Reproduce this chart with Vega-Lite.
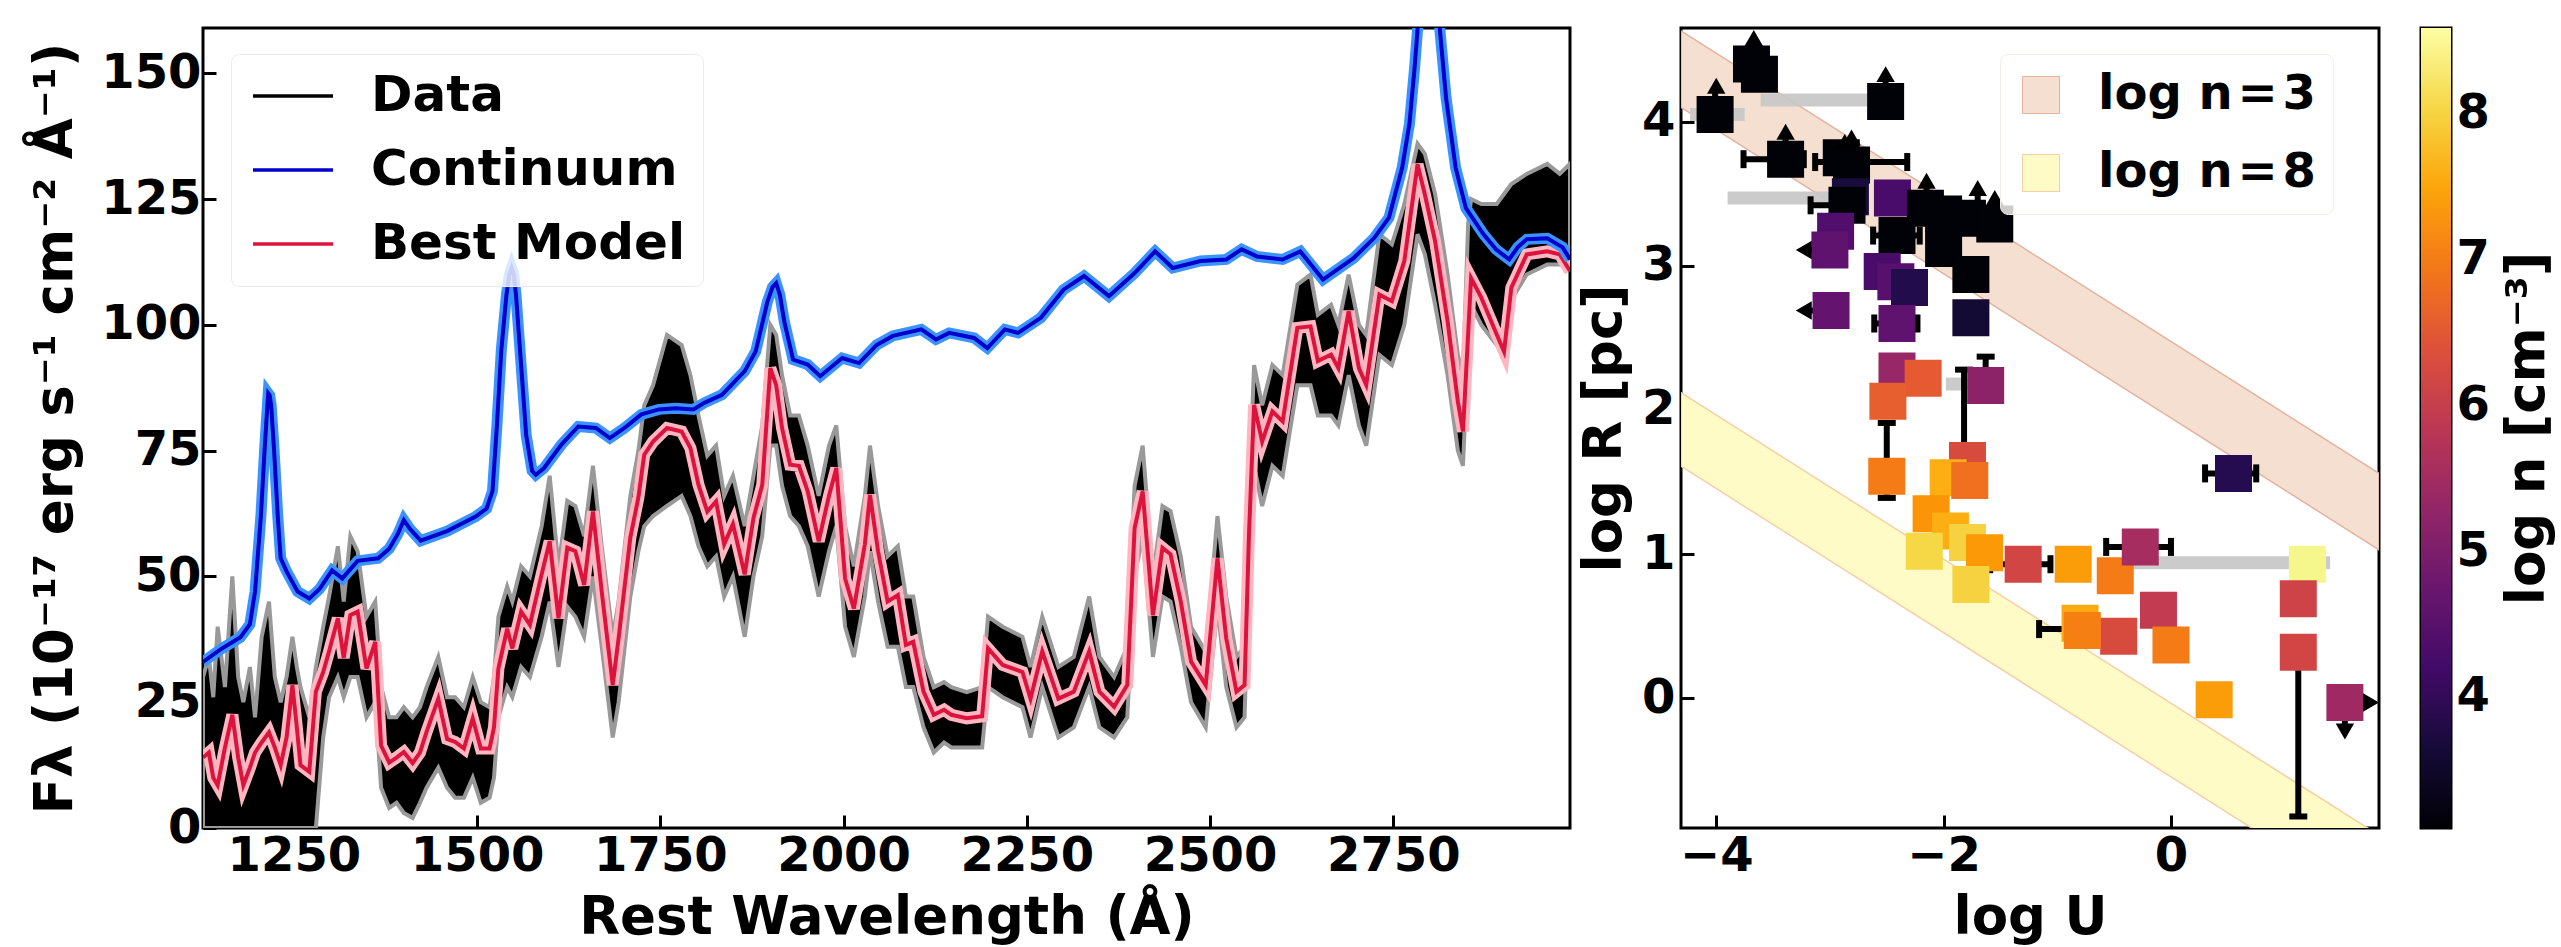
{
"$schema":"https://vega.github.io/schema/vega-lite/v6.json",
"background":"white",
"padding":{"left":28,"top":26,"right":0,"bottom":0},
"datasets":{
"spec":[
{"w":1126,"m":14,"lo":0,"hi":30},{"w":1134,"m":15,"lo":0,"hi":34},{"w":1140,"m":10,"lo":0,"hi":26},{"w":1146,"m":8.5,"lo":0,"hi":40},{"w":1156,"m":16,"lo":0,"hi":28},{"w":1166,"m":22.5,"lo":0,"hi":50},{"w":1174,"m":14,"lo":0,"hi":30},{"w":1181,"m":8.5,"lo":0,"hi":25},{"w":1190,"m":12,"lo":0,"hi":32},{"w":1197,"m":15,"lo":0,"hi":22},{"w":1206,"m":17,"lo":0,"hi":38},{"w":1216,"m":19,"lo":0,"hi":45},{"w":1224,"m":16,"lo":0,"hi":30},{"w":1232,"m":12.5,"lo":0,"hi":25},{"w":1240,"m":18,"lo":0,"hi":30},{"w":1248,"m":28.4,"lo":0,"hi":38},{"w":1254,"m":20,"lo":0,"hi":32},{"w":1259,"m":12.5,"lo":0,"hi":28},{"w":1271,"m":11.2,"lo":0,"hi":22},{"w":1280,"m":27.1,"lo":0,"hi":32},
{"w":1290,"m":31,"lo":18,"hi":40},{"w":1298,"m":35.1,"lo":26,"hi":46},{"w":1310,"m":41.7,"lo":30,"hi":56},{"w":1318,"m":33.8,"lo":26,"hi":45},{"w":1327,"m":42.3,"lo":30,"hi":58},{"w":1337,"m":43,"lo":30,"hi":55},{"w":1349,"m":31.7,"lo":22,"hi":42},{"w":1361,"m":37,"lo":25,"hi":45},{"w":1369,"m":16.4,"lo":8,"hi":28},{"w":1380,"m":13,"lo":4,"hi":22},{"w":1390,"m":14,"lo":5,"hi":22},{"w":1400,"m":15.1,"lo":3,"hi":24},{"w":1412,"m":12.9,"lo":2,"hi":22},{"w":1422,"m":15,"lo":5,"hi":24},{"w":1431,"m":19.1,"lo":8,"hi":28},{"w":1447,"m":25.7,"lo":12,"hi":34},{"w":1459,"m":17.7,"lo":8,"hi":26},{"w":1470,"m":17.1,"lo":6,"hi":26},{"w":1482,"m":15.8,"lo":6,"hi":24},{"w":1494,"m":21.8,"lo":10,"hi":30},{"w":1505,"m":15.8,"lo":5,"hi":25},{"w":1517,"m":15.8,"lo":6,"hi":24},{"w":1523,"m":20,"lo":10,"hi":30},{"w":1529,"m":31.7,"lo":22,"hi":42},{"w":1541,"m":39.6,"lo":28,"hi":48},{"w":1548,"m":35.7,"lo":26,"hi":45},{"w":1560,"m":43,"lo":32,"hi":52},{"w":1572,"m":40.4,"lo":30,"hi":50},{"w":1588,"m":50.4,"lo":38,"hi":60},{"w":1599,"m":57,"lo":45,"hi":70},{"w":1611,"m":41.7,"lo":32,"hi":52},{"w":1623,"m":55.7,"lo":44,"hi":65},{"w":1634,"m":55,"lo":42,"hi":64},{"w":1646,"m":48.3,"lo":38,"hi":58},{"w":1658,"m":62.9,"lo":50,"hi":72},{"w":1670,"m":47,"lo":36,"hi":56},{"w":1685,"m":28.4,"lo":18,"hi":38},{"w":1693,"m":37.7,"lo":25,"hi":45},{"w":1709,"m":57.7,"lo":46,"hi":66},{"w":1720,"m":65.7,"lo":55,"hi":75},{"w":1728,"m":74.2,"lo":60,"hi":84},{"w":1740,"m":76.8,"lo":62,"hi":88},{"w":1759,"m":79.5,"lo":64,"hi":98},{"w":1779,"m":78.8,"lo":66,"hi":96},{"w":1791,"m":75.5,"lo":62,"hi":90},{"w":1802,"m":68.2,"lo":56,"hi":82},{"w":1814,"m":62.9,"lo":52,"hi":74},{"w":1826,"m":64.9,"lo":54,"hi":76},{"w":1837,"m":56.4,"lo":46,"hi":66},{"w":1849,"m":60.4,"lo":50,"hi":70},{"w":1865,"m":50.4,"lo":38,"hi":60},{"w":1877,"m":61.6,"lo":50,"hi":70},{"w":1889,"m":68.2,"lo":58,"hi":80},{"w":1900,"m":91.4,"lo":76,"hi":100},{"w":1908,"m":88,"lo":76,"hi":98},{"w":1916,"m":79.5,"lo":68,"hi":90},{"w":1927,"m":72.2,"lo":62,"hi":82},{"w":1939,"m":72,"lo":60,"hi":82},{"w":1951,"m":66.9,"lo":56,"hi":76},{"w":1966,"m":57,"lo":46,"hi":66},{"w":1980,"m":66,"lo":55,"hi":76},{"w":1990,"m":71.5,"lo":60,"hi":80},{"w":2002,"m":49.6,"lo":40,"hi":60},{"w":2014,"m":43.6,"lo":34,"hi":52},{"w":2029,"m":56.4,"lo":46,"hi":66},{"w":2036,"m":66.2,"lo":55,"hi":76},{"w":2047,"m":55,"lo":45,"hi":64},{"w":2060,"m":45,"lo":36,"hi":54},{"w":2074,"m":46.3,"lo":36,"hi":56},{"w":2085,"m":36.4,"lo":28,"hi":46},{"w":2095,"m":37,"lo":28,"hi":46},{"w":2109,"m":27.1,"lo":20,"hi":34},{"w":2123,"m":22.5,"lo":15,"hi":28},{"w":2137,"m":23.5,"lo":17,"hi":29},{"w":2147,"m":22.5,"lo":16,"hi":28},{"w":2168,"m":21.8,"lo":16,"hi":27},{"w":2189,"m":22.2,"lo":16,"hi":28},{"w":2197,"m":35.7,"lo":28,"hi":42},{"w":2217,"m":32.4,"lo":26,"hi":40},{"w":2244,"m":31,"lo":24,"hi":38},{"w":2255,"m":25.7,"lo":18,"hi":32},{"w":2271,"m":35.1,"lo":28,"hi":42},{"w":2293,"m":25.7,"lo":18,"hi":32},{"w":2314,"m":27.1,"lo":20,"hi":34},{"w":2335,"m":35.1,"lo":28,"hi":46},{"w":2349,"m":27.1,"lo":20,"hi":34},{"w":2369,"m":24.1,"lo":18,"hi":30},{"w":2387,"m":28.4,"lo":22,"hi":36},{"w":2397,"m":59.6,"lo":50,"hi":68},{"w":2408,"m":66.9,"lo":58,"hi":76},{"w":2422,"m":42.3,"lo":34,"hi":50},{"w":2435,"m":55.7,"lo":46,"hi":64},{"w":2446,"m":54.4,"lo":45,"hi":63},{"w":2460,"m":45,"lo":36,"hi":54},{"w":2474,"m":33.1,"lo":25,"hi":40},{"w":2494,"m":28.4,"lo":20,"hi":35},{"w":2510,"m":53.6,"lo":44,"hi":62},{"w":2522,"m":37.7,"lo":28,"hi":46},{"w":2536,"m":27.1,"lo":20,"hi":34},{"w":2547,"m":28.4,"lo":22,"hi":36},{"w":2553,"m":58.2,"lo":50,"hi":66},{"w":2560,"m":84.1,"lo":72,"hi":92},{"w":2571,"m":76.8,"lo":64,"hi":84},{"w":2585,"m":82.8,"lo":72,"hi":92},{"w":2599,"m":80.8,"lo":70,"hi":90},{"w":2619,"m":99.4,"lo":88,"hi":108},{"w":2637,"m":99.7,"lo":88,"hi":110},{"w":2647,"m":92.8,"lo":82,"hi":102},{"w":2665,"m":94.1,"lo":82,"hi":104},{"w":2675,"m":91.4,"lo":80,"hi":100},{"w":2689,"m":102.7,"lo":90,"hi":110},{"w":2703,"m":91.4,"lo":80,"hi":100},{"w":2713,"m":88.1,"lo":76,"hi":98},{"w":2731,"m":106,"lo":94,"hi":118},{"w":2748,"m":104.7,"lo":92,"hi":116},{"w":2765,"m":112.7,"lo":100,"hi":124},{"w":2783,"m":131.9,"lo":118,"hi":136},{"w":2793,"m":125.9,"lo":114,"hi":134},{"w":2807,"m":116.6,"lo":104,"hi":126},{"w":2824,"m":100.7,"lo":90,"hi":110},{"w":2838,"m":84.8,"lo":75,"hi":94},{"w":2845,"m":78.8,"lo":72,"hi":90},{"w":2852,"m":98.1,"lo":95,"hi":120},{"w":2856,"m":109.3,"lo":104,"hi":125},{"w":2870,"m":105.4,"lo":100,"hi":124},{"w":2891,"m":98.1,"lo":96,"hi":124},{"w":2901,"m":94.7,"lo":96,"hi":126},{"w":2911,"m":107.4,"lo":105,"hi":128},{"w":2932,"m":114,"lo":110,"hi":130},{"w":2960,"m":114.6,"lo":112,"hi":132},{"w":2977,"m":114,"lo":112,"hi":130},{"w":2991,"m":110.7,"lo":112,"hi":132}
],
"cont":[
{"w":1126,"f":33},{"w":1150,"f":35.5},{"w":1177,"f":37.9},{"w":1190,"f":40.5},{"w":1197,"f":47},{"w":1205,"f":62},{"w":1210,"f":75},{"w":1213,"f":82},{"w":1215,"f":86.4},{"w":1217,"f":86},{"w":1219,"f":84},{"w":1223,"f":75},{"w":1228,"f":62},{"w":1232,"f":53.6},{"w":1240,"f":51},{"w":1255,"f":47},{"w":1271,"f":45.6},{"w":1285,"f":47.5},{"w":1302,"f":51.2},{"w":1316,"f":49.6},{"w":1337,"f":53.1},{"w":1365,"f":53.6},{"w":1380,"f":55.5},{"w":1392,"f":58.5},{"w":1400,"f":61.2},{"w":1408,"f":59.5},{"w":1423,"f":57.1},{"w":1459,"f":59},{"w":1498,"f":61.9},{"w":1513,"f":63.5},{"w":1521,"f":67},{"w":1527,"f":80},{"w":1533,"f":95},{"w":1540,"f":106},{"w":1544,"f":110},{"w":1547,"f":111.3},{"w":1550,"f":110},{"w":1553,"f":106},{"w":1560,"f":92},{"w":1567,"f":78},{"w":1575,"f":71},{"w":1580,"f":70.2},{"w":1591,"f":71.5},{"w":1615,"f":76.2},{"w":1638,"f":79.8},{"w":1662,"f":79.5},{"w":1681,"f":77.5},{"w":1701,"f":79.5},{"w":1724,"f":82.2},{"w":1748,"f":83.2},{"w":1771,"f":83.4},{"w":1795,"f":83.2},{"w":1810,"f":84.5},{"w":1834,"f":86.1},{"w":1865,"f":90.8},{"w":1880,"f":94.7},{"w":1896,"f":104.6},{"w":1903,"f":107.5},{"w":1908,"f":108.3},{"w":1913,"f":106},{"w":1919,"f":100.7},{"w":1931,"f":93.1},{"w":1951,"f":92.1},{"w":1968,"f":89.8},{"w":1998,"f":93.4},{"w":2021,"f":92.4},{"w":2045,"f":96},{"w":2067,"f":97.8},{"w":2106,"f":99.1},{"w":2126,"f":97.1},{"w":2144,"f":98.4},{"w":2178,"f":97.4},{"w":2196,"f":95.4},{"w":2220,"f":99.1},{"w":2238,"f":98.4},{"w":2269,"f":101.4},{"w":2300,"f":107},{"w":2328,"f":109.7},{"w":2362,"f":105.7},{"w":2397,"f":110.3},{"w":2425,"f":114.6},{"w":2449,"f":111.3},{"w":2487,"f":112.7},{"w":2522,"f":113},{"w":2543,"f":115},{"w":2564,"f":113.6},{"w":2599,"f":113},{"w":2623,"f":114.6},{"w":2654,"f":109},{"w":2696,"f":113.3},{"w":2724,"f":117.3},{"w":2744,"f":121.3},{"w":2762,"f":131.2},{"w":2772,"f":140},{"w":2779,"f":151.1},{"w":2790,"f":172},{"w":2798,"f":182},{"w":2806,"f":172},{"w":2814,"f":157.8},{"w":2822,"f":145},{"w":2835,"f":131.2},{"w":2849,"f":123.2},{"w":2873,"f":118},{"w":2890,"f":115},{"w":2908,"f":113},{"w":2920,"f":115.5},{"w":2932,"f":117},{"w":2960,"f":117.2},{"w":2981,"f":115.4},{"w":2991,"f":113}
],
"bands":[
{"b":"log n = 3","U":-4.31,"lo":4.10,"hi":4.63},{"b":"log n = 3","U":1.83,"lo":1.03,"hi":1.56},
{"b":"log n = 8","U":-4.31,"lo":1.61,"hi":2.12},{"b":"log n = 8","U":1.83,"lo":-1.46,"hi":-0.95}
],
"gray":[
{"U1":-4.23,"U2":-3.75,"R":4.05},{"U1":-3.61,"U2":-2.67,"R":4.15},{"U1":-3.90,"U2":-2.96,"R":3.47},{"U1":-1.98,"U2":-1.79,"R":2.18},{"U1":-0.35,"U2":1.40,"R":0.94}
],
"segs":[
{"U1":-3.76,"U2":-3.23,"R1":3.74,"R2":3.74},{"U1":-3.13,"U2":-2.32,"R1":3.72,"R2":3.72},{"U1":-3.17,"U2":-2.85,"R1":3.42,"R2":3.42},{"U1":-2.62,"U2":-2.21,"R1":3.21,"R2":3.21},{"U1":-2.61,"U2":-2.23,"R1":2.60,"R2":2.60},{"U1":-1.59,"U2":-1.06,"R1":0.93,"R2":0.93},{"U1":-0.57,"U2":0.0,"R1":1.05,"R2":1.05},{"U1":0.30,"U2":0.75,"R1":1.56,"R2":1.56},{"U1":-1.16,"U2":-0.78,"R1":0.48,"R2":0.48},
{"U1":-2.50,"U2":-2.50,"R1":1.39,"R2":1.91},{"U1":-1.82,"U2":-1.82,"R1":1.65,"R2":2.28},{"U1":-1.63,"U2":-1.63,"R1":2.17,"R2":2.37},{"U1":1.12,"U2":1.12,"R1":-0.82,"R2":0.32},
{"U1":-4.01,"U2":-4.01,"R1":4.05,"R2":4.25},{"U1":-3.67,"U2":-3.67,"R1":4.40,"R2":4.58},{"U1":-2.51,"U2":-2.51,"R1":4.14,"R2":4.33},{"U1":-3.39,"U2":-3.39,"R1":3.74,"R2":3.93},{"U1":-2.87,"U2":-2.87,"R1":3.75,"R2":3.86},{"U1":-2.81,"U2":-2.81,"R1":3.70,"R2":3.89},{"U1":-2.15,"U2":-2.15,"R1":3.40,"R2":3.59},{"U1":-1.70,"U2":-1.70,"R1":3.33,"R2":3.54},{"U1":-1.55,"U2":-1.55,"R1":3.29,"R2":3.47},{"U1":-3.23,"U2":-3.0,"R1":3.11,"R2":3.11},{"U1":-3.23,"U2":-2.99,"R1":2.69,"R2":2.69},{"U1":1.53,"U2":1.76,"R1":-0.03,"R2":-0.03},{"U1":1.53,"U2":1.53,"R1":-0.23,"R2":-0.03}
],
"hcaps":[{"U":-2.50,"R":1.39},{"U":-2.50,"R":1.91},{"U":-1.82,"R":2.28},{"U":-1.63,"R":2.37},{"U":1.12,"R":-0.82}],
"vcaps":[{"U":-3.76,"R":3.74},{"U":-3.23,"R":3.74},{"U":-3.13,"R":3.72},{"U":-2.32,"R":3.72},{"U":-3.17,"R":3.42},{"U":-2.62,"R":3.21},{"U":-2.21,"R":3.21},{"U":-2.61,"R":2.60},{"U":-2.23,"R":2.60},{"U":-1.59,"R":0.93},{"U":-1.06,"R":0.93},{"U":-0.57,"R":1.05},{"U":0.0,"R":1.05},{"U":0.30,"R":1.56},{"U":0.75,"R":1.56},{"U":-1.16,"R":0.48}],
"pts":[
{"U":-4.01,"R":4.05,"n":3.15},{"U":-3.69,"R":4.40,"n":3.15},{"U":-3.62,"R":4.33,"n":3.15},{"U":-2.51,"R":4.14,"n":3.15},{"U":-3.39,"R":3.74,"n":3.15},{"U":-2.90,"R":3.75,"n":3.15},{"U":-2.81,"R":3.70,"n":3.15},{"U":-2.82,"R":3.48,"n":3.65},{"U":-2.85,"R":3.42,"n":3.15},{"U":-2.45,"R":3.47,"n":4.3},{"U":-2.16,"R":3.40,"n":3.15},{"U":-2.0,"R":3.36,"n":3.15},{"U":-1.79,"R":3.33,"n":3.15},{"U":-1.55,"R":3.29,"n":3.15},{"U":-2.0,"R":3.12,"n":3.15},{"U":-1.76,"R":2.94,"n":3.15},{"U":-2.41,"R":3.21,"n":3.15},{"U":-2.95,"R":3.24,"n":4.4},{"U":-3.0,"R":3.11,"n":4.6},{"U":-2.99,"R":2.69,"n":4.65},{"U":-2.54,"R":2.96,"n":4.3},{"U":-2.42,"R":2.89,"n":4.5},{"U":-2.30,"R":2.85,"n":3.8},{"U":-2.41,"R":2.60,"n":4.6},{"U":-1.76,"R":2.64,"n":3.6},{"U":-2.41,"R":2.27,"n":5.35},{"U":-2.18,"R":2.22,"n":6.55},{"U":-2.49,"R":2.06,"n":6.6},{"U":-1.63,"R":2.17,"n":5.2},{"U":-2.50,"R":1.54,"n":7.0},{"U":-1.79,"R":1.65,"n":6.3},{"U":-1.96,"R":1.53,"n":7.6},{"U":-1.77,"R":1.51,"n":6.85},{"U":-2.11,"R":1.28,"n":7.3},{"U":-1.94,"R":1.16,"n":7.6},{"U":-2.17,"R":1.02,"n":8.05},{"U":-1.79,"R":1.08,"n":8.0},{"U":-1.64,"R":1.01,"n":7.35},{"U":-1.76,"R":0.79,"n":8.0},{"U":-1.30,"R":0.93,"n":6.2},{"U":-0.86,"R":0.93,"n":7.4},{"U":-0.49,"R":0.85,"n":7.0},{"U":-0.27,"R":1.05,"n":5.55},{"U":1.20,"R":0.93,"n":8.45},{"U":1.12,"R":0.69,"n":6.15},{"U":1.12,"R":0.32,"n":6.2},{"U":1.53,"R":-0.03,"n":5.45},{"U":0.38,"R":-0.01,"n":7.4},{"U":-0.11,"R":0.61,"n":5.95},{"U":-0.46,"R":0.43,"n":6.3},{"U":-0.80,"R":0.52,"n":7.55},{"U":-0.78,"R":0.47,"n":7.05},{"U":0.0,"R":0.37,"n":7.0},{"U":0.55,"R":1.56,"n":3.85}
],
"arrows":[
{"U":-4.0,"R":4.25,"dir":"up"},{"U":-3.67,"R":4.58,"dir":"up"},{"U":-2.51,"R":4.33,"dir":"up"},{"U":-3.39,"R":3.93,"dir":"up"},{"U":-2.87,"R":3.86,"dir":"up"},{"U":-2.81,"R":3.89,"dir":"up"},{"U":-2.15,"R":3.59,"dir":"up"},{"U":-1.70,"R":3.54,"dir":"up"},{"U":-1.55,"R":3.47,"dir":"up"},{"U":-3.23,"R":3.11,"dir":"left"},{"U":-3.23,"R":2.69,"dir":"left"},{"U":1.76,"R":-0.03,"dir":"right"},{"U":1.53,"R":-0.23,"dir":"down"}
],
"cb":[{"lo":3.10,"hi":8.59}]
},
"bounds":"flush",
"spacing":111,
"resolve":{"scale":{"color":"independent","fill":"independent","stroke":"independent","shape":"independent"},"legend":{"color":"independent","fill":"independent","stroke":"independent","shape":"independent"}},
"hconcat":[
{
"width":1367,"height":800,
"layer":[
{"data":{"name":"spec"},"mark":{"type":"area","color":"black","stroke":"#999999","strokeWidth":4,"clip":true},
 "encoding":{
  "x":{"field":"w","type":"quantitative","scale":{"domain":[1126,2991],"nice":false,"zero":false},
       "axis":{"values":[1250,1500,1750,2000,2250,2500,2750],"format":"d","title":"Rest Wavelength (Å)","labelPadding":17,"titlePadding":11}},
  "y":{"field":"lo","type":"quantitative","scale":{"domain":[0,159],"nice":false,"zero":false},
       "axis":{"values":[0,25,50,75,100,125,150],"format":"d","title":"Fλ (10⁻¹⁷ erg s⁻¹ cm⁻² Å⁻¹)","labelPadding":15,"titlePadding":18}},
  "y2":{"field":"hi"}}},
{"data":{"name":"spec"},"mark":{"type":"line","color":"#ffb6c1","strokeWidth":12,"clip":true},
 "encoding":{"x":{"field":"w","type":"quantitative"},"y":{"field":"m","type":"quantitative"}}},
{"data":{"name":"spec"},"mark":{"type":"line","strokeWidth":4,"clip":true},
 "encoding":{"x":{"field":"w","type":"quantitative"},"y":{"field":"m","type":"quantitative"},
  "color":{"datum":"Best Model","type":"nominal",
    "scale":{"domain":["Data","Continuum","Best Model"],"range":["black","#0000cd","#dc143c"]},
    "legend":{"orient":"none","legendX":28,"legendY":26,"title":null,"symbolType":"M-2,0H2","symbolSize":1600,"symbolStrokeWidth":3.5,"symbolOffset":20,
      "labelFontSize":50,"labelFont":"DejaVu Sans","labelFontWeight":"bold","labelColor":"black","labelOffset":53,"labelLimit":0,"rowPadding":24,
      "padding":17,"fillColor":"rgba(255,255,255,0.8)","strokeColor":"#ececec","cornerRadius":8}}}},
{"data":{"name":"cont"},"mark":{"type":"line","color":"#3a93ff","strokeWidth":11,"clip":true},
 "encoding":{"x":{"field":"w","type":"quantitative"},"y":{"field":"f","type":"quantitative"}}},
{"data":{"name":"cont"},"mark":{"type":"line","strokeWidth":4,"clip":true},
 "encoding":{"x":{"field":"w","type":"quantitative"},"y":{"field":"f","type":"quantitative"},"color":{"datum":"Continuum","type":"nominal"}}}
]
},
{
"bounds":"flush",
"spacing":42,
"resolve":{"scale":{"color":"independent","fill":"independent","stroke":"independent","shape":"independent"},"legend":{"color":"independent","fill":"independent","stroke":"independent","shape":"independent"}},
"hconcat":[
{
"width":698,"height":800,
"layer":[
{"data":{"name":"bands"},"mark":{"type":"area","strokeWidth":1.5,"clip":true,"opacity":1},
 "encoding":{
  "x":{"field":"U","type":"quantitative","scale":{"domain":[-4.31,1.83],"nice":false,"zero":false},
       "axis":{"values":[-4,-2,0],"format":"d","title":"log U","labelPadding":17,"titlePadding":11}},
  "y":{"field":"lo","type":"quantitative","scale":{"domain":[-0.90,4.65],"nice":false,"zero":false},
       "axis":{"values":[0,1,2,3,4],"format":"d","title":"log R [pc]","labelPadding":19,"titlePadding":10}},
  "y2":{"field":"hi"},
  "fill":{"field":"b","type":"nominal","scale":{"domain":["log n = 3","log n = 8"],"range":["#f5dfd1","#fffbc6"]},
    "legend":{"orient":"none","legendX":319,"legendY":26,"title":null,"symbolType":"square","symbolSize":1369,"symbolStrokeColor":"#e6b49e","symbolStrokeWidth":1,
      "labelExpr":"datum.label == 'log n = 3' ? 'log n\u200a=\u200a3' : 'log n\u200a=\u200a8'",
      "labelFontSize":48,"labelFont":"DejaVu Sans","labelFontWeight":"bold","labelColor":"black","labelOffset":33,"labelLimit":0,"rowPadding":30,
      "padding":17,"fillColor":"rgba(255,255,255,0.8)","strokeColor":"#f6ece6","cornerRadius":8}},
  "stroke":{"field":"b","type":"nominal","scale":{"domain":["log n = 3","log n = 8"],"range":["#e3b39f","#f7cfa6"]},"legend":null}}},
{"data":{"name":"gray"},"mark":{"type":"rule","color":"#c8c8c8","strokeWidth":13,"opacity":0.95},
 "encoding":{"x":{"field":"U1","type":"quantitative"},"x2":{"field":"U2"},"y":{"field":"R","type":"quantitative"}}},
{"data":{"name":"segs"},"mark":{"type":"rule","color":"black","strokeWidth":6},
 "encoding":{"x":{"field":"U1","type":"quantitative"},"x2":{"field":"U2"},"y":{"field":"R1","type":"quantitative"},"y2":{"field":"R2"}}},
{"data":{"name":"hcaps"},"mark":{"type":"point","shape":"stroke","size":324,"strokeWidth":6,"color":"black","opacity":1},
 "encoding":{"x":{"field":"U","type":"quantitative"},"y":{"field":"R","type":"quantitative"}}},
{"data":{"name":"vcaps"},"mark":{"type":"point","shape":"stroke","angle":90,"size":324,"strokeWidth":6,"color":"black","opacity":1},
 "encoding":{"x":{"field":"U","type":"quantitative"},"y":{"field":"R","type":"quantitative"}}},
{"data":{"name":"pts"},"mark":{"type":"point","shape":"square","filled":true,"size":1369,"opacity":1},
 "encoding":{"x":{"field":"U","type":"quantitative"},"y":{"field":"R","type":"quantitative"},
  "color":{"field":"n","type":"quantitative","scale":{"scheme":"inferno","domain":[3.10,8.59]},"legend":null}}},
{"data":{"name":"arrows"},"mark":{"type":"point","filled":true,"size":340,"color":"black","opacity":1},
 "encoding":{"x":{"field":"U","type":"quantitative"},"y":{"field":"R","type":"quantitative"},
  "shape":{"field":"dir","type":"nominal","scale":{"domain":["up","down","left","right"],"range":["triangle-up","triangle-down","triangle-left","triangle-right"]},"legend":null}}}
]
},
{
"width":30,"height":800,
"data":{"name":"cb"},
"mark":{"type":"rect","fill":{"gradient":"linear","x1":0,"y1":1,"x2":0,"y2":0,"stops":[
 {"offset":0,"color":"#000004"},{"offset":0.1,"color":"#160b39"},{"offset":0.2,"color":"#420a68"},{"offset":0.3,"color":"#6a176e"},{"offset":0.4,"color":"#932667"},{"offset":0.5,"color":"#bc3754"},{"offset":0.6,"color":"#dd513a"},{"offset":0.7,"color":"#f37819"},{"offset":0.8,"color":"#fca50a"},{"offset":0.9,"color":"#f6d746"},{"offset":1,"color":"#fcffa4"}]}},
"encoding":{
 "y":{"field":"lo","type":"quantitative","scale":{"domain":[3.10,8.59],"nice":false,"zero":false},
   "axis":{"orient":"right","values":[4,5,6,7,8],"format":"d","title":"log n [cm⁻³]","titleAngle":270,"titleBaseline":"top","tickSize":-12,"labelPadding":17,"titlePadding":12}},
 "y2":{"field":"hi"}}
}
]
}
],
"config":{
 "font":"DejaVu Sans",
 "view":{"stroke":"black","strokeWidth":3},
 "axis":{"domain":false,"grid":false,"tickColor":"black","tickWidth":3,"tickSize":-13,"labelFlush":false,"labelOverlap":false,"labelBound":false,
   "labelFont":"DejaVu Sans","labelFontSize":48,"labelFontWeight":"bold","labelColor":"black",
   "titleFont":"DejaVu Sans","titleFontSize":53,"titleFontWeight":"bold","titleColor":"black"}
}
}
